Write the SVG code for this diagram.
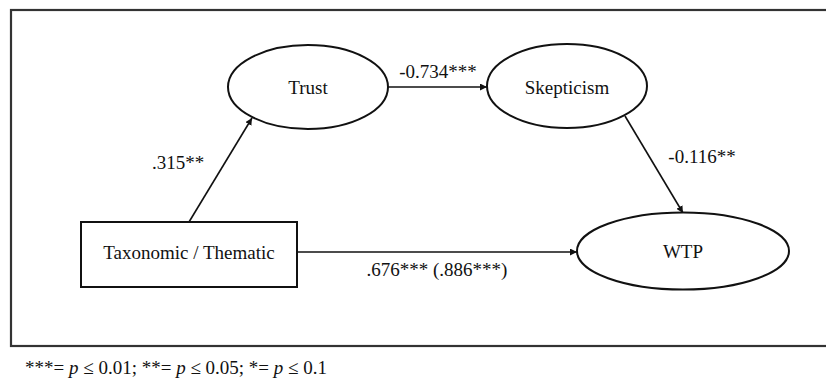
<svg xmlns="http://www.w3.org/2000/svg" width="826" height="380" viewBox="0 0 826 380">
<defs>
<style>
text{font-family:"Liberation Serif","Times New Roman",serif;font-size:19px;fill:#111}
.n{fill:#fff;stroke:#111;stroke-width:2}
.c{stroke:#111;stroke-width:1.6;fill:none}
</style>
<marker id="ah" viewBox="0 0 10 10" refX="10" refY="5" markerWidth="7" markerHeight="7" markerUnits="userSpaceOnUse" orient="auto">
<path d="M0,0 L10,5 L0,10 z" fill="#111"/>
</marker>
</defs>
<rect x="0" y="0" width="826" height="380" fill="#fff"/>
<rect x="11" y="10" width="830" height="336" fill="none" stroke="#333" stroke-width="2.2"/>
<g id="connectors">
<line class="c" x1="189" y1="222" x2="252" y2="118" marker-end="url(#ah)"/>
<line class="c" x1="388" y1="87" x2="487" y2="87" marker-end="url(#ah)"/>
<line class="c" x1="625" y1="116" x2="683" y2="213" marker-end="url(#ah)"/>
<line class="c" x1="297" y1="252" x2="577" y2="252" marker-end="url(#ah)"/>
<text x="438" y="78" text-anchor="middle">-0.734***</text>
<text x="178" y="169" text-anchor="middle">.315**</text>
<text x="702" y="163" text-anchor="middle">-0.116**</text>
<text x="437" y="276" text-anchor="middle">.676*** (.886***)</text>
</g>
<g id="trust">
<ellipse class="n" cx="308" cy="87" rx="80" ry="42"/>
<text x="308" y="94" text-anchor="middle">Trust</text>
</g>
<g id="skepticism">
<ellipse class="n" cx="567" cy="86" rx="80" ry="42"/>
<text x="567" y="94" text-anchor="middle">Skepticism</text>
</g>
<g id="wtp">
<ellipse class="n" cx="683" cy="251" rx="106" ry="38.5"/>
<text x="683" y="258" text-anchor="middle">WTP</text>
</g>
<g id="taxonomic">
<rect class="n" x="81" y="222" width="216" height="65"/>
<text x="189" y="259" text-anchor="middle">Taxonomic / Thematic</text>
</g>
<text x="25" y="374">***= <tspan font-style="italic">p</tspan> ≤ 0.01; **= <tspan font-style="italic">p</tspan> ≤ 0.05; *= <tspan font-style="italic">p</tspan> ≤ 0.1</text>
</svg>
